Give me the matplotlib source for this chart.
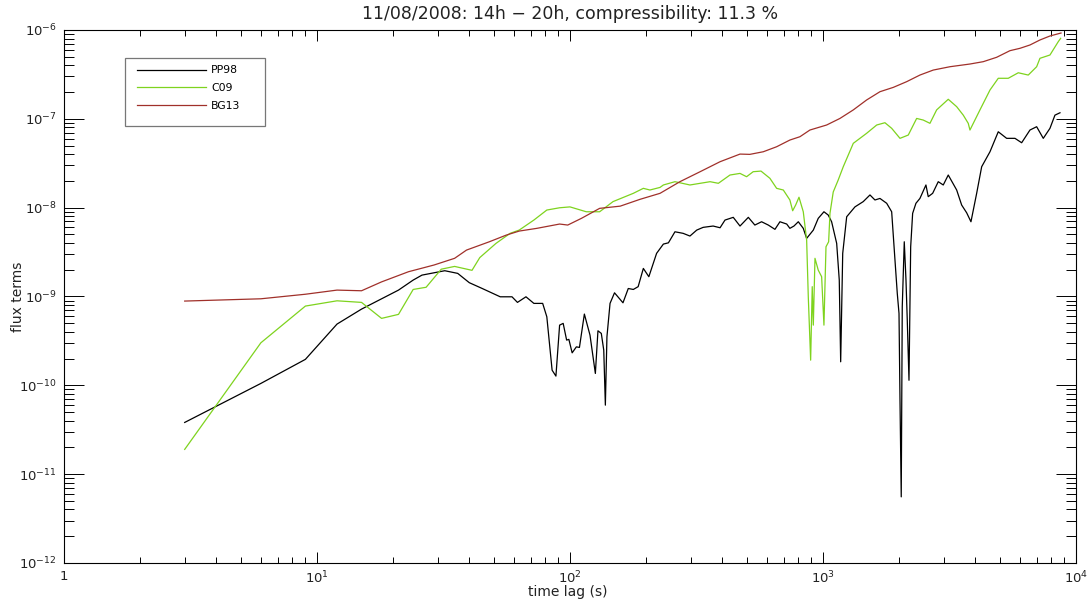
import matplotlib
matplotlib.use('Agg')
import matplotlib.pyplot as plt
from matplotlib.ticker import FixedLocator, FixedFormatter, LogLocator, NullFormatter
from matplotlib.patches import Rectangle

# Datos: desfase temporal (s) y terminos de flujo
pp98_lag = [3, 6, 9, 12, 15, 21, 24, 26, 32, 36, 40, 45, 53, 59, 62, 67, 72, 78, 81, 85,
            88, 91, 94, 97, 99, 102, 106, 109, 114, 120, 126, 129, 133, 136, 138, 140, 144, 150, 162, 170,
            178, 186, 195, 205, 220, 234, 245, 260, 280, 298, 317, 336, 368, 392, 410, 442, 470, 507, 538, 572,
            608, 646, 676, 719, 740, 768, 799, 836, 862, 916, 958, 1009, 1049, 1082, 1133, 1160, 1175, 1197, 1241, 1338,
            1443, 1534, 1605, 1680, 1786, 1869, 1926, 1967, 1998, 2016, 2039, 2058, 2096, 2129, 2154, 2188, 2222, 2262, 2331, 2417,
            2553, 2607, 2714, 2856, 2989, 3128, 3377, 3534, 3698, 3846, 4051, 4240, 4573, 4931, 5322, 5741, 6101, 6580, 6993, 7428,
            7894, 8260, 8647]
pp98_flux = [3.82e-11, 1.05e-10, 1.96e-10, 4.89e-10, 7.21e-10, 1.18e-9, 1.53e-9, 1.74e-9, 1.95e-9, 1.82e-9,
             1.43e-9, 1.23e-9, 9.92e-10, 9.92e-10, 8.58e-10, 9.92e-10, 8.36e-10, 8.36e-10, 5.91e-10, 1.48e-10,
             1.27e-10, 4.76e-10, 4.98e-10, 3.23e-10, 3.29e-10, 2.32e-10, 2.71e-10, 2.67e-10, 6.34e-10, 3.67e-10,
             1.36e-10, 4.11e-10, 3.84e-10, 2.49e-10, 5.98e-11, 3.52e-10, 8.36e-10, 1.10e-9, 8.49e-10, 1.23e-9,
             1.20e-9, 1.29e-9, 2.07e-9, 1.67e-9, 3.06e-9, 3.89e-9, 4.02e-9, 5.35e-9, 5.14e-9, 4.79e-9,
             5.59e-9, 6.00e-9, 6.21e-9, 5.94e-9, 7.25e-9, 7.78e-9, 6.21e-9, 7.78e-9, 6.37e-9, 6.94e-9,
             6.37e-9, 5.70e-9, 6.94e-9, 6.54e-9, 5.85e-9, 6.21e-9, 6.94e-9, 5.85e-9, 4.51e-9, 5.59e-9,
             7.58e-9, 8.99e-9, 8.26e-9, 6.94e-9, 3.96e-9, 1.53e-9, 1.84e-10, 3.06e-9, 7.90e-9, 1.02e-8,
             1.17e-8, 1.39e-8, 1.22e-8, 1.27e-8, 1.12e-8, 8.99e-9, 2.57e-9, 1.08e-9, 6.45e-10, 6.81e-11,
             5.55e-12, 7.66e-10, 4.13e-9, 1.53e-9, 5.42e-10, 1.14e-10, 3.63e-9, 8.63e-9, 1.12e-8, 1.27e-8,
             1.80e-8, 1.33e-8, 1.45e-8, 1.96e-8, 1.80e-8, 2.33e-8, 1.58e-8, 1.07e-8, 8.76e-9, 6.94e-9,
             1.45e-8, 2.89e-8, 4.26e-8, 7.15e-8, 6.03e-8, 6.03e-8, 5.38e-8, 7.48e-8, 8.15e-8, 6.03e-8,
             7.82e-8, 1.10e-7, 1.17e-7]

c09_lag = [3, 6, 9, 12, 15, 18, 21, 24, 27, 31, 35, 41, 44, 51, 58, 63, 72, 81, 91, 100,
           116, 131, 148, 178, 195, 207, 227, 234, 260, 298, 358, 386, 429, 470, 499, 530, 569, 617, 656, 697,
           740, 759, 780, 804, 836, 862, 875, 894, 907, 916, 930, 958, 988, 1009, 1028, 1053, 1066, 1098, 1149, 1203,
           1318, 1488, 1631, 1758, 1869, 2016, 2174, 2346, 2491, 2648, 2814, 3128, 3377, 3586, 3752, 3811, 4174, 4573, 4931, 5400,
           5916, 6479, 6993, 7206, 7894, 8511, 8701]
c09_flux = [1.90e-11, 3.01e-10, 7.80e-10, 8.94e-10, 8.58e-10, 5.67e-10, 6.29e-10, 1.20e-9, 1.27e-9, 2.03e-9,
            2.18e-9, 1.97e-9, 2.74e-9, 3.96e-9, 5.14e-9, 5.59e-9, 7.25e-9, 9.40e-9, 9.97e-9, 1.02e-8,
            8.99e-9, 8.99e-9, 1.17e-8, 1.45e-8, 1.65e-8, 1.58e-8, 1.69e-8, 1.80e-8, 1.96e-8, 1.80e-8,
            1.96e-8, 1.88e-8, 2.33e-8, 2.43e-8, 2.23e-8, 2.54e-8, 2.58e-8, 2.14e-8, 1.65e-8, 1.58e-8,
            1.22e-8, 9.23e-9, 1.07e-8, 1.31e-8, 8.99e-9, 4.32e-9, 9.92e-10, 1.92e-10, 1.29e-9, 4.76e-10,
            2.69e-9, 1.98e-9, 1.67e-9, 4.76e-10, 3.63e-9, 4.13e-9, 8.63e-9, 1.50e-8, 2.05e-8, 2.89e-8,
            5.30e-8, 6.87e-8, 8.52e-8, 9.04e-8, 7.82e-8, 6.03e-8, 6.57e-8, 1.01e-7, 9.69e-8, 8.90e-8,
            1.26e-7, 1.66e-7, 1.37e-7, 1.10e-7, 8.90e-8, 7.48e-8, 1.26e-7, 2.11e-7, 2.86e-7, 2.86e-7,
            3.30e-7, 3.11e-7, 3.86e-7, 4.80e-7, 5.23e-7, 7.38e-7, 8.06e-7]

bg13_lag = [3, 6, 9, 12, 15, 18, 23, 29, 35, 39, 48, 56, 63, 74, 91, 98, 111, 131, 158, 189,
            227, 272, 327, 392, 470, 514, 581, 656, 740, 811, 888, 1034, 1167, 1318, 1488, 1680, 1897, 2142, 2417, 2729,
            3177, 3811, 4302, 4860, 5484, 6008, 6580, 7206, 7894, 8730]
bg13_flux = [8.88e-10, 9.42e-10, 1.06e-9, 1.18e-9, 1.16e-9, 1.46e-9, 1.90e-9, 2.26e-9, 2.69e-9, 3.33e-9,
             4.13e-9, 4.91e-9, 5.45e-9, 5.85e-9, 6.54e-9, 6.37e-9, 7.58e-9, 9.82e-9, 1.04e-8, 1.24e-8,
             1.45e-8, 1.96e-8, 2.54e-8, 3.29e-8, 4.01e-8, 3.98e-8, 4.26e-8, 4.85e-8, 5.77e-8, 6.29e-8,
             7.48e-8, 8.52e-8, 1.01e-7, 1.26e-7, 1.63e-7, 2.02e-7, 2.26e-7, 2.62e-7, 3.11e-7, 3.54e-7,
             3.86e-7, 4.14e-7, 4.40e-7, 4.93e-7, 5.85e-7, 6.22e-7, 6.78e-7, 7.72e-7, 8.56e-7, 9.25e-7]

x_ticks = [1, 10, 100, 1000, 10000]
x_labels = ['1', '$10^{1}$', '$10^{2}$', '$10^{3}$', '$10^{4}$']
y_ticks = [1e-12, 1e-11, 1e-10, 1e-9, 1e-8, 1e-7, 1e-6]
y_labels = ['$10^{-12}$', '$10^{-11}$', '$10^{-10}$', '$10^{-9}$', '$10^{-8}$', '$10^{-7}$', '$10^{-6}$']

fig = plt.figure(figsize=(10.92, 6.06), dpi=100)
ax = fig.add_axes([0.0586, 0.0710, 0.9267, 0.8795])

ax.plot(pp98_lag, pp98_flux, color='black', lw=0.9, label='PP98')
ax.plot(c09_lag, c09_flux, color='#7ED31E', lw=0.9, label='C09')
ax.plot(bg13_lag, bg13_flux, color='#A0302A', lw=0.9, label='BG13')

ax.set_xscale('log')
ax.set_yscale('log')
ax.set_xlim(1, 1e4)
ax.set_ylim(1e-12, 1e-6)

ax.xaxis.set_major_locator(FixedLocator(x_ticks))
ax.xaxis.set_major_formatter(FixedFormatter(x_labels))
ax.yaxis.set_major_locator(FixedLocator(y_ticks))
ax.yaxis.set_major_formatter(FixedFormatter(y_labels))
ax.xaxis.set_minor_locator(LogLocator(base=10, subs=range(2, 10), numticks=20))
ax.yaxis.set_minor_locator(LogLocator(base=10, subs=range(2, 10), numticks=20))
ax.xaxis.set_minor_formatter(NullFormatter())
ax.yaxis.set_minor_formatter(NullFormatter())

# Ticks hacia dentro en los cuatro lados (estilo IDL)
ax.tick_params(axis='x', which='major', direction='in', length=8, width=0.7, top=True, pad=5,
               labelsize=9.5, labelcolor='#222222')
ax.tick_params(axis='x', which='minor', direction='in', length=4, width=0.7, top=True)
ax.tick_params(axis='y', which='major', direction='in', length=14.5, width=0.7, right=True, pad=5,
               labelsize=9.5, labelcolor='#222222')
ax.tick_params(axis='y', which='minor', direction='in', length=7.2, width=0.7, right=True)
for s in ax.spines.values():
    s.set_linewidth(0.8)

ax.set_title('11/08/2008: 14h \u2212 20h, compressibility: 11.3 %', fontsize=12.5, pad=8, color='#222222')
ax.set_xlabel('time lag (s)', fontsize=10, color='#222222', va='center')
ax.xaxis.set_label_coords(0.498, -0.054)
ax.set_ylabel('flux terms', fontsize=10, color='#222222', va='center')
ax.yaxis.set_label_coords(-0.0455, 0.5)

# Leyenda con caja propia
fig.patches.append(Rectangle((0.1145, 0.7921), 0.1282, 0.1122, transform=fig.transFigure,
                             fill=False, edgecolor='#777777', lw=0.9))
ax.legend(loc='upper left', bbox_to_anchor=(0.125, 0.892), bbox_transform=fig.transFigure,
          frameon=False, fontsize=7.8, handlelength=6.4, handletextpad=0.5,
          labelspacing=0.72, borderpad=0, borderaxespad=0)

fig.savefig('out.png', dpi=100)
